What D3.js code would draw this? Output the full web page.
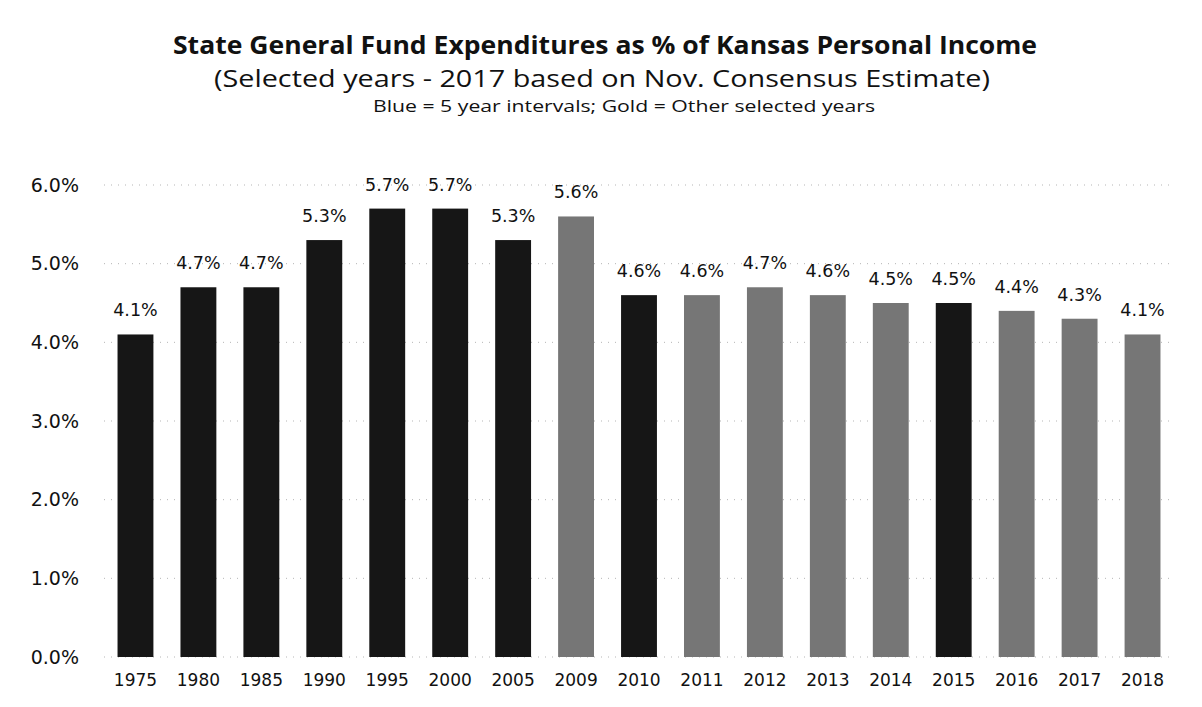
<!DOCTYPE html>
<html>
<head>
<meta charset="utf-8">
<script src="https://cdn.jsdelivr.net/npm/d3@7"></script>
<style>
  body { margin: 0; background: #fff; }
  .tick line { display: none; }
  .domain { display: none; }
</style>
</head>
<body>
<div id="chart"></div>
<script>
// chart data
var years = ["1975","1980","1985","1990","1995","2000","2005","2009","2010","2011","2012","2013","2014","2015","2016","2017","2018"];
var values = [4.1, 4.7, 4.7, 5.3, 5.7, 5.7, 5.3, 5.6, 4.6, 4.6, 4.7, 4.6, 4.5, 4.5, 4.4, 4.3, 4.1];
// "blue" = 5 year interval, "gold" = other selected year
var groups = ["blue","blue","blue","blue","blue","blue","blue","gold","blue","gold","gold","gold","gold","blue","gold","gold","gold"];
var yTicks = [0, 1, 2, 3, 4, 5, 6];

var W = 1202, H = 707;
var margin = {top: 185, right: 28, bottom: 50, left: 104},
    width = W - margin.left - margin.right,
    height = H - margin.top - margin.bottom;

var svg = d3.select("#chart").append("svg")
    .attr("width", W)
    .attr("height", H);

var color = {blue: "#161616", gold: "#767676"};

var g = svg.append("g").attr("transform", "translate(" + margin.left + "," + margin.top + ")");

var x = d3.scaleBand()
    .domain(years)
    .range([0, width])
    .paddingInner(0.43)
    .paddingOuter(0.215);

var y = d3.scaleLinear()
    .domain([0, 6])
    .range([height, 0]);

// gridlines
g.selectAll(".grid")
  .data(yTicks)
  .enter().append("line")
    .attr("class", "grid")
    .attr("x1", 0)
    .attr("x2", width)
    .attr("y1", function(d) { return y(d); })
    .attr("y2", function(d) { return y(d); })
    .attr("stroke", "#b5b5b5")
    .attr("stroke-width", 1)
    .attr("stroke-dasharray", "1,6");

// bars
g.selectAll(".bar")
  .data(values)
  .enter().append("rect")
    .attr("class", "bar")
    .attr("x", function(d, i) { return x(years[i]); })
    .attr("width", x.bandwidth())
    .attr("y", function(d) { return y(d); })
    .attr("height", function(d) { return height - y(d); })
    .attr("fill", function(d, i) { return color[groups[i]]; });

// value labels
g.selectAll(".lbl")
  .data(values)
  .enter().append("text")
    .attr("class", "lbl")
    .attr("x", function(d, i) { return x(years[i]) + x.bandwidth() / 2; })
    .attr("y", function(d) { return y(d) - 18; })
    .attr("text-anchor", "middle")
    .style("font-family", "DejaVu Sans, Verdana, sans-serif")
    .style("font-size", "17.5px")
    .style("fill", "#111")
    .text(function(d) { return d.toFixed(1) + "%"; });

// x-axis
g.append("g")
    .attr("class", "axis axis--x")
    .attr("transform", "translate(0," + height + ")")
    .call(d3.axisBottom(x).tickSize(0).tickPadding(17))
    .selectAll("text")
    .style("font-family", "DejaVu Sans, Verdana, sans-serif")
    .style("font-size", "17px")
    .style("fill", "#111");

// y-axis
g.append("g")
    .attr("class", "axis axis--y")
    .call(d3.axisLeft(y).tickValues(yTicks).tickSize(0).tickPadding(25)
        .tickFormat(function(d) { return d.toFixed(1) + "%"; }))
    .selectAll("text")
    .style("font-family", "DejaVu Sans, Verdana, sans-serif")
    .style("font-size", "19px")
    .style("fill", "#111");

// titles
svg.append("text")
    .attr("x", 605).attr("y", 54)
    .attr("text-anchor", "middle")
    .attr("textLength", 864)
    .attr("lengthAdjust", "spacingAndGlyphs")
    .style("font-family", "Open Sans, sans-serif")
    .style("font-weight", "bold")
    .style("font-size", "25px")
    .style("fill", "#111")
    .text("State General Fund Expenditures as % of Kansas Personal Income");

svg.append("text")
    .attr("x", 602).attr("y", 87)
    .attr("text-anchor", "middle")
    .attr("textLength", 776)
    .attr("lengthAdjust", "spacingAndGlyphs")
    .style("font-family", "Open Sans, sans-serif")
    .style("font-size", "24px")
    .style("fill", "#111")
    .text("(Selected years - 2017 based on Nov. Consensus Estimate)");

svg.append("text")
    .attr("x", 624).attr("y", 112)
    .attr("text-anchor", "middle")
    .attr("textLength", 502)
    .attr("lengthAdjust", "spacingAndGlyphs")
    .style("font-family", "Open Sans, sans-serif")
    .style("font-size", "17px")
    .style("fill", "#111")
    .text("Blue = 5 year intervals; Gold = Other selected years");
</script>
</body>
</html>
